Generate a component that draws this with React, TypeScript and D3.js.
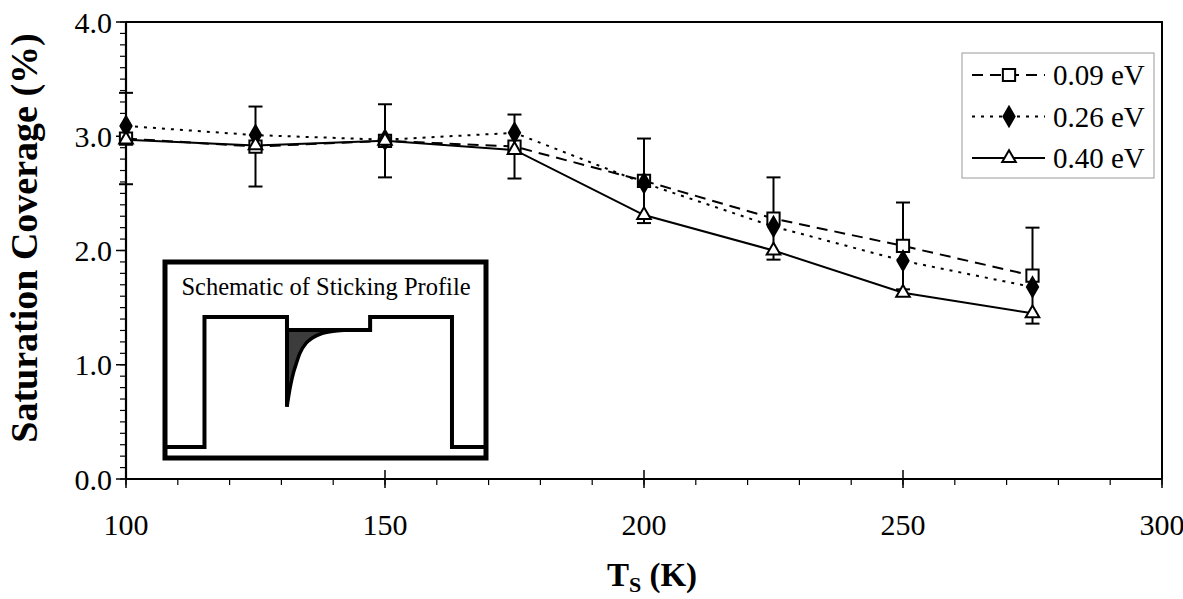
import React from "react";
import * as d3 from "d3";

// surface temperature (K)
const temps = [100, 125, 150, 175, 200, 225, 250, 275];
// saturation coverage (%) per incident energy
const cov009 = [2.98, 2.91, 2.96, 2.91, 2.61, 2.28, 2.04, 1.78];
const cov026 = [3.09, 3.01, 2.97, 3.03, 2.59, 2.21, 1.91, 1.68];
const cov040 = [2.97, 2.92, 2.96, 2.88, 2.31, 2.0, 1.63, 1.45];
// error bars drawn on the 0.09 eV series
const err009 = [0.4, 0.35, 0.32, 0.28, 0.37, 0.36, 0.38, 0.42];
const seriesNames = ["0.09 eV", "0.26 eV", "0.40 eV"];

// inset: schematic sticking profile (time 0..100, relative level 0..1)
const profileT = [0, 12.3, 12.3, 38, 38, 63.9, 63.9, 89.4, 89.4, 100];
const profileS = [0, 0, 1, 1, 0.9, 0.9, 1, 1, 0, 0];
const dipT = [38, 39, 40, 41, 42, 44, 46, 49, 53, 57];
const dipS = [0.31, 0.46, 0.57, 0.65, 0.72, 0.8, 0.84, 0.875, 0.893, 0.9];

const W = 1183;
const H = 599;
const font = '"Liberation Serif", "Times New Roman", Times, serif';

const x = d3.scaleLinear().domain([100, 300]).range([126, 1162]);
const y = d3.scaleLinear().domain([0, 4]).range([479, 22]);

const ix = d3.scaleLinear().domain([0, 100]).range([165, 486]);
const iy = d3.scaleLinear().domain([0, 1]).range([447, 317]);

type Pt = [number, number];

const series = [
  { name: seriesNames[0], values: cov009, dash: "11,7", symbol: d3.symbolSquare, size: 150, fill: "#fff" },
  { name: seriesNames[1], values: cov026, dash: "3,6", symbol: d3.symbolDiamond, size: 110, fill: "#000" },
  { name: seriesNames[2], values: cov040, dash: null, symbol: d3.symbolTriangle, size: 80, fill: "#fff" },
];

export default function App() {
  const line = d3
    .line<number>()
    .x((_, i) => x(temps[i]))
    .y((d) => y(d));

  const inLine = d3
    .line<Pt>()
    .x((d) => ix(d[0]))
    .y((d) => iy(d[1]));
  const profile: Pt[] = profileT.map((t, i) => [t, profileS[i]]);
  const dip: Pt[] = dipT.map((t, i) => [t, dipS[i]]);
  const dipCurve = d3
    .line<Pt>()
    .x((d) => ix(d[0]))
    .y((d) => iy(d[1]))
    .curve(d3.curveMonotoneX);
  const shade = dipCurve(dip) + `L${ix(38)},${iy(0.9)}Z`;

  const xMinor = x.ticks(20);
  const xMajor = x.ticks(4);
  const yMinor = y.ticks(40);
  const yMajor = y.ticks(4);

  const [x0, x1] = x.range();
  const [y0, y1] = y.range();

  return (
    <svg
      width={W}
      height={H}
      style={{ position: "absolute", left: 0, top: 0, background: "#fff", fontFamily: font }}
    >
      {/* plot frame */}
      <path d={`M${x0},${y1}H${x1}V${y0}`} fill="none" stroke="#000" strokeWidth={2} />
      <line x1={x0} x2={x1} y1={y0} y2={y0} stroke="#000" strokeWidth={2.2} />
      <line x1={x0} x2={x0} y1={y0} y2={y1} stroke="#000" strokeWidth={2.2} />

      {/* y ticks */}
      {yMinor.map((v) => (
        <line key={"ym" + v} x1={x0 - 6} x2={x0} y1={y(v)} y2={y(v)} stroke="#000" strokeWidth={1.2} />
      ))}
      {yMajor.map((v) => (
        <g key={"yM" + v}>
          <line x1={x0 - 10} x2={x0} y1={y(v)} y2={y(v)} stroke="#000" strokeWidth={1.5} />
          <text x={x0 - 14} y={y(v)} dy="0.35em" textAnchor="end" fontSize={30}>
            {d3.format(".1f")(v)}
          </text>
        </g>
      ))}

      {/* x ticks */}
      {xMinor.map((v) => (
        <line key={"xm" + v} x1={x(v)} x2={x(v)} y1={y0} y2={y0 + 6} stroke="#000" strokeWidth={1.2} />
      ))}
      {xMajor.map((v) => (
        <g key={"xM" + v}>
          <line x1={x(v)} x2={x(v)} y1={y0 - 9} y2={y0 + 9} stroke="#000" strokeWidth={1.5} />
          <text x={x(v)} y={535} textAnchor="middle" fontSize={30}>
            {v}
          </text>
        </g>
      ))}

      {/* axis titles */}
      <text
        transform="translate(37,238) rotate(-90)"
        textAnchor="middle"
        fontSize={38}
        fontWeight="bold"
      >
        Saturation Coverage (%)
      </text>
      <text x={652} y={586} textAnchor="middle" fontSize={33} fontWeight="bold">
        T
        <tspan fontSize={22} dy={6}>S</tspan>
        <tspan dy={-6}> (K)</tspan>
      </text>

      {/* inset */}
      <rect x={165} y={262} width={321} height={196} fill="#fff" stroke="#000" strokeWidth={5} />
      <text x={326} y={295} textAnchor="middle" fontSize={24.5}>
        Schematic of Sticking Profile
      </text>
      <path d={shade} fill="#3c3c3c" />
      <path d={inLine(profile) ?? ""} fill="none" stroke="#000" strokeWidth={4} />
      <line x1={ix(38)} x2={ix(38)} y1={iy(0.9)} y2={iy(dipS[0])} stroke="#000" strokeWidth={4} />
      <path d={dipCurve(dip) ?? ""} fill="none" stroke="#000" strokeWidth={3.5} />

      {/* error bars */}
      {temps.map((t, i) => {
        const top = y(cov009[i] + err009[i]);
        const bot = y(cov009[i] - err009[i]);
        const cx = x(t);
        return (
          <g key={"e" + t} stroke="#000" strokeWidth={2}>
            <line x1={cx} x2={cx} y1={top} y2={bot} />
            <line x1={cx - 7} x2={cx + 7} y1={top} y2={top} />
            <line x1={cx - 7} x2={cx + 7} y1={bot} y2={bot} />
          </g>
        );
      })}

      {/* series lines and markers */}
      {series.map((s) => (
        <path
          key={"l" + s.name}
          d={line(s.values) ?? ""}
          fill="none"
          stroke="#000"
          strokeWidth={2}
          strokeDasharray={s.dash ?? undefined}
        />
      ))}
      {series.map((s) =>
        s.values.map((v, i) => (
          <path
            key={"m" + s.name + i}
            d={d3.symbol(s.symbol, s.size)() ?? ""}
            transform={`translate(${x(temps[i])},${y(v)})`}
            fill={s.fill}
            stroke="#000"
            strokeWidth={2}
          />
        ))
      )}

      {/* legend */}
      <rect x={962} y={53} width={192} height={125} fill="#fff" stroke="#999" strokeWidth={1} />
      {series.map((s, i) => {
        const ly = 75 + i * 41.5;
        return (
          <g key={"lg" + s.name}>
            <line
              x1={972}
              x2={1045}
              y1={ly}
              y2={ly}
              stroke="#000"
              strokeWidth={2}
              strokeDasharray={s.dash ?? undefined}
            />
            <path
              d={d3.symbol(s.symbol, s.size)() ?? ""}
              transform={`translate(1009,${ly})`}
              fill={s.fill}
              stroke="#000"
              strokeWidth={2}
            />
            <text x={1053} y={ly + 10} fontSize={29}>
              {s.name}
            </text>
          </g>
        );
      })}
    </svg>
  );
}
